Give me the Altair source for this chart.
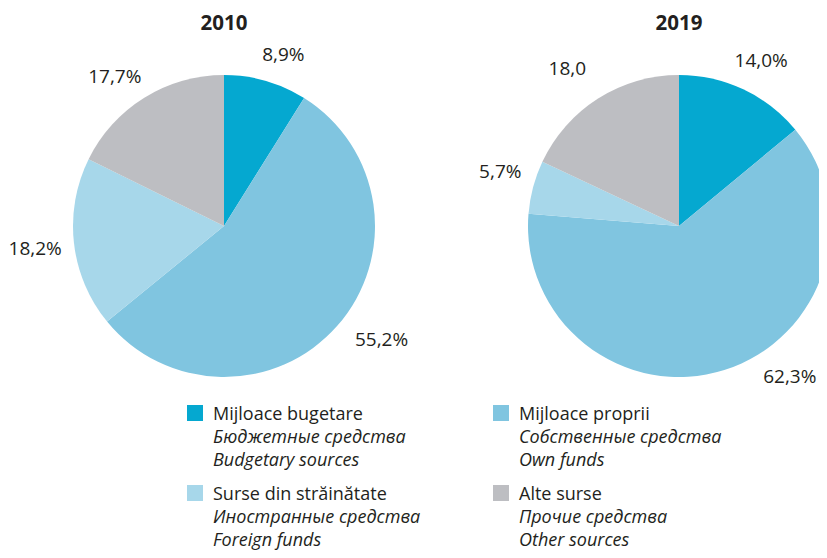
import altair as alt
import pandas as pd

# ---- data ----
years = ["2010", "2019"]
categories = ["Mijloace bugetare", "Mijloace proprii", "Surse din străinătate", "Alte surse"]
names_ru = ["Бюджетные средства", "Собственные средства", "Иностранные средства", "Прочие средства"]
names_en = ["Budgetary sources", "Own funds", "Foreign funds", "Other sources"]
values_2010 = [8.9, 55.2, 18.2, 17.7]
values_2019 = [14.0, 62.3, 5.7, 18.0]
labels_2010 = ["8,9%", "55,2%", "18,2%", "17,7%"]
labels_2019 = ["14,0%", "62,3%", "5,7%", "18,0"]
colors = ["#05a8d0", "#80c5e0", "#a7d7ea", "#bdbec2"]

rows = []
for yr, vals, labs in [(years[0], values_2010, labels_2010), (years[1], values_2019, labels_2019)]:
    for i, (c, v, l) in enumerate(zip(categories, vals, labs)):
        rows.append({"year": yr, "category": c, "idx": i, "value": v, "label": l})
df = pd.DataFrame(rows)

leg = pd.DataFrame({
    "category": categories,
    "ru": names_ru,
    "en": names_en,
    "col": [i % 2 for i in range(len(categories))],
    "row": [i // 2 for i in range(len(categories))],
})

# ---- layout / style ----
FONT = "Open Sans"
TXT = "#231f20"
CY = 218
R = 151
LR = 186
LEGFS = 18
# small label nudges (pixels) so labels sit where the reference places them
NUDGE = {
    "2010": [(8, 8), (18, -9), (-4, 2), (-11, 9)],
    "2019": [(3, 3), (55, -26), (1, -6), (-12, 0)],
}

color_enc = alt.Color("category:N", scale=alt.Scale(domain=categories, range=colors), legend=None)


def pie(year, cx):
    base = alt.Chart(df).transform_filter(alt.datum.year == year).encode(
        theta=alt.Theta("value:Q", stack=True),
        order=alt.Order("idx:Q"),
    )
    layers = [base.mark_arc(outerRadius=R).encode(
        color=color_enc, x=alt.value(cx), y=alt.value(CY)
    )]
    for k, (ddx, ddy) in enumerate(NUDGE[year]):
        layers.append(
            base.mark_text(radius=LR, font=FONT, fontSize=19, color=TXT, baseline="middle",
                           dx=ddx, dy=ddy).encode(
                text=alt.condition(f"datum.idx == {k}", alt.Text("label:N"), alt.value("")),
                detail="category:N", x=alt.value(cx), y=alt.value(CY)
            )
        )
    layers.append(
        alt.Chart(df).transform_filter(
            (alt.datum.year == year) & (alt.datum.idx == 0)
        ).mark_text(font=FONT, fontSize=20.5, fontWeight="bold", color=TXT,
                    baseline="alphabetic").encode(
            text="year:N", x=alt.value(cx), y=alt.value(22)
        )
    )
    return layers


p1 = pie(years[0], 216)
p2 = pie(years[1], 671)

xs = alt.X("col:Q", scale=alt.Scale(domain=[0, 1], range=[187, 493]), axis=None)
ys = alt.Y("row:Q", scale=alt.Scale(domain=[0, 1], range=[405, 485]), axis=None)

lbase = alt.Chart(leg).encode(x=xs, y=ys)
squares = lbase.mark_square(size=256, opacity=1).encode(color=color_enc)
l1 = lbase.mark_text(align="left", baseline="alphabetic", dx=18, dy=7, font=FONT,
                     fontSize=LEGFS, color=TXT).encode(text="category:N")
l2 = lbase.mark_text(align="left", baseline="alphabetic", dx=18, dy=30, font=FONT,
                     fontSize=LEGFS, fontStyle="italic", color=TXT).encode(text="ru:N")
l3 = lbase.mark_text(align="left", baseline="alphabetic", dx=18, dy=53, font=FONT,
                     fontSize=LEGFS, fontStyle="italic", color=TXT).encode(text="en:N")

chart = alt.layer(*p1, *p2, squares, l1, l2, l3).properties(
    width=811, height=542, padding=0,
    autosize=alt.AutoSizeParams(type="none"),
    background="white",
).configure_view(stroke=None)

chart.save("out.html", embed_options={"renderer": "svg", "actions": False})
